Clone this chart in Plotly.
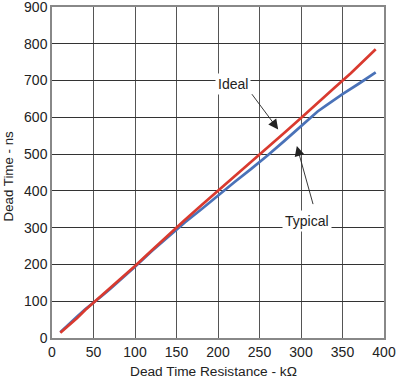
import plotly.graph_objects as go

# Dead time resistance (kOhm)
ideal_r = [10, 20, 30, 40, 50, 60, 70, 80, 90, 100, 120, 140, 150, 160, 180, 200,
           220, 240, 250, 260, 280, 300, 320, 340, 360, 390]
ideal_t = [14, 33, 54, 76, 96, 116, 135, 155, 176, 196, 238, 280, 300, 321, 361, 400,
           440, 478, 500, 518, 558, 598, 640, 680, 720, 785]

typ_r = [10, 20, 30, 40, 50, 60, 70, 80, 90, 100, 120, 140, 150, 160, 180, 200,
         220, 240, 250, 260, 280, 300, 310, 320, 330, 340, 350, 370, 390]
typ_t = [16, 38, 58, 78, 95, 114, 133, 153, 174, 194, 236, 276, 295, 314, 350, 388,
         424, 460, 478, 497, 536, 577, 598, 616, 632, 648, 663, 692, 722]

x_ticks = [0, 50, 100, 150, 200, 250, 300, 350, 400]
y_ticks = [0, 100, 200, 300, 400, 500, 600, 700, 800, 900]

x_title = "Dead Time Resistance - kΩ"
y_title = "Dead Time - ns"

FONT = "Liberation Sans, Arial, sans-serif"

fig = go.Figure()
fig.add_trace(go.Scatter(x=typ_r, y=typ_t, mode="lines", name="Typical",
                         line=dict(color="#4a72b8", width=2.7)))
fig.add_trace(go.Scatter(x=ideal_r, y=ideal_t, mode="lines", name="Ideal",
                         line=dict(color="#d93a2f", width=2.7)))

# text labels
fig.add_annotation(x=218, y=692, text="Ideal", showarrow=False,
                   bgcolor="white", borderpad=2,
                   font=dict(family=FONT, size=14, color="#222"))
fig.add_annotation(x=307, y=317, text="Typical", showarrow=False,
                   bgcolor="white", borderpad=2,
                   font=dict(family=FONT, size=14, color="#222"))
# arrows
fig.add_annotation(x=272.5, y=567, ax=239.5, ay=667, axref="x", ayref="y",
                   text="", showarrow=True, arrowhead=2, arrowsize=2.2,
                   arrowwidth=0.9, arrowcolor="#222")
fig.add_annotation(x=295, y=522, ax=315, ay=360, axref="x", ayref="y",
                   text="", showarrow=True, arrowhead=2, arrowsize=2.2,
                   arrowwidth=0.9, arrowcolor="#222")

# axis titles
fig.add_annotation(xref="paper", yref="paper", x=0.487, y=0, yanchor="middle",
                   yshift=-33, text=x_title, showarrow=False,
                   font=dict(family=FONT, size=13.7, color="#222"))
fig.add_annotation(xref="paper", yref="paper", x=0, y=0.488, xanchor="center",
                   xshift=-44, textangle=-90, text=y_title, showarrow=False,
                   font=dict(family=FONT, size=13.3, color="#222"))

fig.update_layout(
    width=400, height=380,
    margin=dict(l=52, r=16, t=7, b=42),
    paper_bgcolor="white", plot_bgcolor="white",
    showlegend=False,
    font=dict(family=FONT, size=14, color="#222"),
)
fig.update_xaxes(
    range=[0, 400], tickvals=x_ticks, ticktext=[str(v) for v in x_ticks],
    showgrid=True, gridcolor="#555", gridwidth=1.4,
    showline=True, linecolor="#888", linewidth=1.5, mirror=True,
    ticks="", zeroline=False, automargin=False, ticklabeloverflow="allow",
    tickfont=dict(family=FONT, size=14, color="#222"),
)
fig.update_yaxes(
    range=[0, 900], tickvals=y_ticks, ticktext=[str(v) for v in y_ticks],
    showgrid=True, gridcolor="#333", gridwidth=1.2,
    showline=True, linecolor="#888", linewidth=1.5, mirror=True,
    ticks="", zeroline=False, automargin=False, ticklabeloverflow="allow",
    tickfont=dict(family=FONT, size=14, color="#222"),
)

fig.write_html("out.html", config={"displayModeBar": False},
               post_script="document.body.style.margin='0';")
